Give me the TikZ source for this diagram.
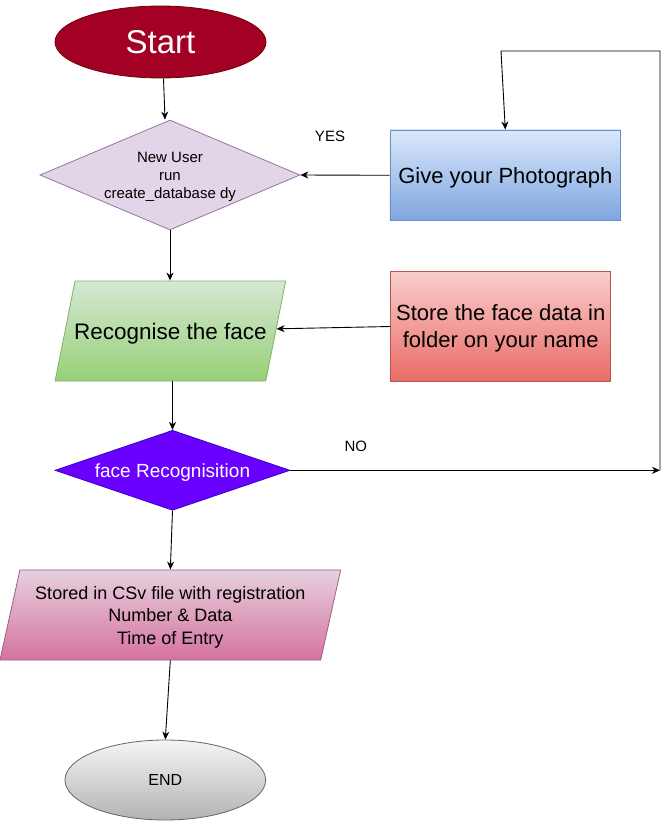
\documentclass[tikz,border=0pt]{standalone}
\usepackage{fontspec}
\setmainfont{Liberation Sans}
\usetikzlibrary{shapes.geometric,arrows.meta}
\definecolor{startfill}{HTML}{A20025}
\definecolor{startline}{HTML}{6F0000}
\definecolor{nufill}{HTML}{E1D5E7}
\definecolor{nuline}{HTML}{9673A6}
\definecolor{bluetop}{HTML}{DAE8FC}
\definecolor{bluebot}{HTML}{7EA6E0}
\definecolor{blueline}{HTML}{6C8EBF}
\definecolor{redtop}{HTML}{F8CECC}
\definecolor{redbot}{HTML}{EA6B66}
\definecolor{redline}{HTML}{B85450}
\definecolor{greentop}{HTML}{D5E8D4}
\definecolor{greenbot}{HTML}{97D077}
\definecolor{greenline}{HTML}{82B366}
\definecolor{violetfill}{HTML}{6A00FF}
\definecolor{violetline}{HTML}{3700CC}
\definecolor{pinktop}{HTML}{E6D0DE}
\definecolor{pinkbot}{HTML}{D5739D}
\definecolor{pinkline}{HTML}{996185}
\definecolor{graytop}{HTML}{F5F5F5}
\definecolor{graybot}{HTML}{B3B3B3}
\definecolor{grayline}{HTML}{666666}
\tikzset{
  base/.style={draw, line width=0.8pt, inner sep=0pt, align=center, text=black, text depth=0pt},
  arr/.style={-{Stealth[length=8pt,width=7pt,inset=2.5pt]}, line width=0.9pt},
  para/.style={base, trapezium, trapezium stretches body=true},
  lbl/.style={font=\fontsize{15}{18}\selectfont, inner sep=0pt}
}
\begin{document}
\begin{tikzpicture}[x=1pt,y=-1pt]
\useasboundingbox (0,0) rectangle (662,821);
% nodes
\node[base, ellipse, fill=startfill, draw=startline, text=white,
      minimum width=211, minimum height=72,
      font=\fontsize{33}{40}\selectfont] (start) at (160.5,42) {Start};
\node[base, diamond, shape aspect=2.36, fill=nufill, draw=nuline,
      minimum width=260, minimum height=110,
      font=\fontsize{15}{18}\selectfont] (nu) at (170,175) {New User\\run\\create\_database dy};
\node[base, rectangle, top color=bluetop, bottom color=bluebot, draw=blueline,
      minimum width=230.7, minimum height=90.7,
      font=\fontsize{22}{27}\selectfont] (photo) at (505.3,175.3) {Give your Photograph};
\node[para, trapezium left angle=78.7, trapezium right angle=101.3,
      top color=greentop, bottom color=greenbot, draw=greenline,
      text height=16pt, inner ysep=42pt, inner xsep=95.35pt,
      font=\fontsize{22.5}{27}\selectfont] (recog) at (170.4,331) {\makebox[0pt]{Recognise the face}};
\node[base, rectangle, top color=redtop, bottom color=redbot, draw=redline,
      minimum width=220, minimum height=110,
      font=\fontsize{22}{27}\selectfont] (store) at (500.7,326.5) {Store the face data in\\folder on your name};
\node[base, diamond, shape aspect=2.94, fill=violetfill, draw=violetline, text=white,
      minimum width=235, minimum height=80,
      font=\fontsize{19}{23}\selectfont] (fr) at (172.5,470.3) {face Recognisition};
\node[para, trapezium left angle=77.5, trapezium right angle=102.5,
      top color=pinktop, bottom color=pinkbot, draw=pinkline,
      inner ysep=16pt, inner xsep=8pt,
      minimum width=340.7, minimum height=90,
      font=\fontsize{18}{22.5}\selectfont] (csv) at (170.3,615) {Stored in CSv file with registration\\Number \& Data\\Time of Entry};
\node[base, ellipse, top color=graytop, bottom color=graybot, draw=grayline,
      minimum width=200.7, minimum height=80,
      font=\fontsize{16}{19}\selectfont] (end) at (165.3,780) {END};
% labels
\node[lbl] (yes) at (330,136) {YES};
\node[lbl] (no) at (355.8,446) {NO};
% loop coordinates
\coordinate (c1) at (660,470.3);
\coordinate (c2) at (660,51);
\coordinate (c3) at (501,51);
% connectors
\draw[arr] ([xshift=3pt]start.south) -- ([xshift=-5pt]nu.north);
\draw[arr] (photo.west) -- (nu.east);
\draw[arr] (nu.south) -- (recog.north -| nu.south);
\draw[arr] (store.west) -- (recog);
\draw[arr] (recog.south -| fr.north) -- (fr.north);
\draw[arr] (fr.east) -- (c1);
\draw[arr] (c1) -- (c2) -- (c3) -- (photo.north);
\draw[arr] (fr.south) -- (csv.north);
\draw[arr] (csv.south) -- (end.north);
\end{tikzpicture}
\end{document}
